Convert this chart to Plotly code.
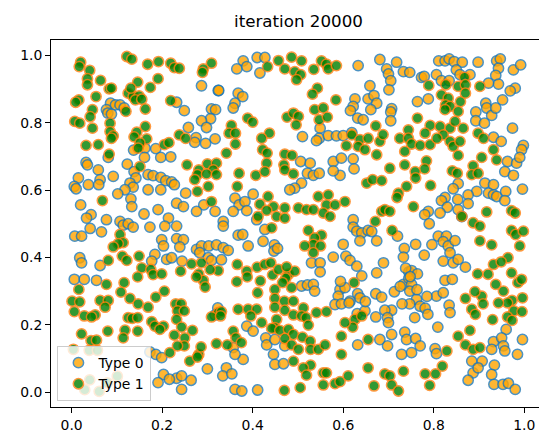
"""Schelling-style agent positions after 20000 iterations."""

import plotly.graph_objects as go

# Type 0 agents (orange fill, blue edge)
type0_x = [
    0.287, 0.324, 0.086, 0.097, 0.107, 0.116, 0.077, 0.080, 0.088, 0.232, 0.249, 0.309, 0.318, 0.307, 0.287,
    0.258, 0.298, 0.275, 0.317, 0.272, 0.296, 0.137, 0.162, 0.186, 0.081, 0.161, 0.197, 0.219, 0.032, 0.035,
    0.123, 0.059, 0.138, 0.169, 0.180, 0.197, 0.015, 0.142, 0.092, 0.208, 0.221, 0.227, 0.063, 0.006, 0.010,
    0.037, 0.060, 0.129, 0.136, 0.169, 0.197, 0.118, 0.252, 0.102, 0.131, 0.232, 0.247, 0.020, 0.292, 0.133,
    0.191, 0.276, 0.317, 0.160, 0.043, 0.033, 0.077, 0.214, 0.107,
    0.379, 0.387, 0.365, 0.410, 0.427, 0.416, 0.633, 0.681, 0.325, 0.368, 0.378, 0.361, 0.357, 0.659, 0.655,
    0.668, 0.674, 0.661, 0.626, 0.622, 0.616, 0.632, 0.644, 0.549, 0.510, 0.547, 0.541, 0.567, 0.585, 0.600,
    0.619, 0.506, 0.527, 0.521, 0.534, 0.547, 0.508, 0.493, 0.482, 0.578, 0.596, 0.622, 0.624, 0.593, 0.578,
    0.361, 0.370, 0.383, 0.401, 0.357, 0.387, 0.622, 0.335, 0.409,
    0.718, 0.696, 0.700, 0.705, 0.701, 0.733, 0.747, 0.773, 0.779, 0.806, 0.817, 0.834, 0.811, 0.825, 0.834,
    0.845, 0.863, 0.850, 0.858, 0.880, 0.898, 0.939, 0.947, 0.943, 0.937, 0.943, 0.921, 0.976, 0.992, 0.980,
    0.969, 0.788, 0.764, 0.707, 0.705, 0.705, 0.915, 0.893, 0.917, 0.928, 0.937, 0.952, 0.893, 0.912, 0.974,
    0.932, 0.949, 0.998, 0.994, 0.963, 0.983, 0.990, 0.957, 0.976, 0.854, 0.843, 0.825, 0.817,
    0.853, 0.830, 0.854, 0.814, 0.788, 0.780, 0.913, 0.932, 0.921, 0.932, 0.939, 0.895, 0.876, 0.959, 0.957,
    0.996, 0.862, 0.876,
    0.007, 0.022, 0.041, 0.066, 0.114, 0.125, 0.136, 0.173, 0.206, 0.232, 0.199, 0.203, 0.232, 0.247, 0.239,
    0.276, 0.287, 0.303, 0.320, 0.184, 0.177, 0.210, 0.221, 0.244, 0.283, 0.302, 0.309, 0.018, 0.022, 0.063,
    0.006, 0.028, 0.055, 0.323, 0.317, 0.173, 0.186, 0.199, 0.203, 0.232, 0.243, 0.191, 0.216, 0.264, 0.243,
    0.300, 0.331,
    0.335, 0.368, 0.378, 0.390, 0.448, 0.447, 0.427, 0.622, 0.630, 0.641, 0.655, 0.674, 0.637, 0.600, 0.335,
    0.346, 0.578, 0.606, 0.615, 0.630, 0.641, 0.530, 0.549, 0.549, 0.508, 0.521, 0.534, 0.537, 0.674, 0.689,
    0.593, 0.589, 0.604, 0.632, 0.637, 0.615, 0.672, 0.685, 0.387, 0.401, 0.582, 0.596, 0.613, 0.631, 0.648,
    0.672, 0.357, 0.379, 0.361, 0.429, 0.431, 0.449, 0.446, 0.449, 0.468, 0.471, 0.632, 0.681, 0.342, 0.334,
    0.354, 0.361, 0.376, 0.411, 0.423, 0.455, 0.663, 0.594, 0.649,
    0.720, 0.735, 0.733, 0.760, 0.779, 0.810, 0.828, 0.821, 0.832, 0.847, 0.836, 0.821, 0.843, 0.854, 0.870,
    0.713, 0.733, 0.745, 0.751, 0.764, 0.745, 0.751, 0.747, 0.825, 0.841, 0.806, 0.821, 0.834, 0.836, 0.762,
    0.770, 0.781, 0.747, 0.730, 0.707, 0.692, 0.698, 0.700, 0.758, 0.787, 0.809, 0.960, 0.698, 0.707, 0.736,
    0.740, 0.760, 0.770, 0.729, 0.751, 0.932, 0.928, 0.950, 0.954, 0.957, 0.985, 0.996, 0.803, 0.806, 0.884,
    0.907, 0.887, 0.934, 0.928, 0.876, 0.933, 0.953, 0.965, 0.980, 0.898, 0.796, 0.738, 0.748, 0.726, 0.763,
    0.785, 0.790,
]
type0_y = [
    0.910, 0.896, 0.858, 0.853, 0.853, 0.844, 0.839, 0.829, 0.826, 0.861, 0.836, 0.841, 0.839, 0.812, 0.806,
    0.786, 0.786, 0.756, 0.752, 0.742, 0.739, 0.719, 0.725, 0.723, 0.697, 0.697, 0.697, 0.699, 0.682, 0.675,
    0.677, 0.660, 0.655, 0.646, 0.643, 0.638, 0.636, 0.636, 0.641, 0.628, 0.624, 0.616, 0.631, 0.611, 0.604,
    0.616, 0.616, 0.621, 0.609, 0.601, 0.601, 0.601, 0.591, 0.589, 0.574, 0.561, 0.551, 0.556, 0.556, 0.551,
    0.542, 0.537, 0.537, 0.529, 0.527, 0.517, 0.512, 0.517, 0.507,
    0.984, 0.967, 0.960, 0.994, 0.994, 0.948, 0.970, 0.988, 0.896, 0.888, 0.878, 0.858, 0.844, 0.910, 0.871,
    0.881, 0.858, 0.839, 0.871, 0.849, 0.836, 0.814, 0.809, 0.784, 0.759, 0.754, 0.747, 0.762, 0.761, 0.762,
    0.771, 0.685, 0.680, 0.650, 0.644, 0.650, 0.621, 0.606, 0.601, 0.685, 0.695, 0.693, 0.663, 0.644, 0.657,
    0.576, 0.556, 0.566, 0.588, 0.537, 0.539, 0.512, 0.507, 0.512,
    0.980, 0.960, 0.945, 0.925, 0.898, 0.952, 0.950, 0.935, 0.938, 0.943, 0.925, 0.925, 0.984, 0.984, 0.990,
    0.982, 0.980, 0.957, 0.943, 0.943, 0.980, 0.984, 0.990, 0.962, 0.941, 0.915, 0.918, 0.957, 0.972, 0.903,
    0.895, 0.871, 0.863, 0.842, 0.832, 0.806, 0.858, 0.832, 0.844, 0.822, 0.844, 0.868, 0.806, 0.799, 0.784,
    0.757, 0.745, 0.733, 0.720, 0.685, 0.680, 0.697, 0.655, 0.644, 0.619, 0.604, 0.578, 0.569,
    0.572, 0.549, 0.542, 0.532, 0.537, 0.527, 0.621, 0.616, 0.591, 0.586, 0.581, 0.596, 0.586, 0.596, 0.569,
    0.603, 0.521, 0.560,
    0.463, 0.463, 0.486, 0.476, 0.496, 0.500, 0.490, 0.490, 0.493, 0.493, 0.453, 0.434, 0.456, 0.453, 0.431,
    0.424, 0.434, 0.434, 0.437, 0.409, 0.389, 0.394, 0.399, 0.389, 0.414, 0.399, 0.391, 0.399, 0.384, 0.376,
    0.335, 0.335, 0.332, 0.250, 0.229, 0.119, 0.112, 0.102, 0.052, 0.041, 0.048, 0.028, 0.038, 0.035, 0.008,
    0.069, 0.393,
    0.493, 0.466, 0.468, 0.434, 0.437, 0.419, 0.483, 0.490, 0.478, 0.473, 0.480, 0.449, 0.449, 0.439, 0.429,
    0.421, 0.401, 0.404, 0.391, 0.374, 0.345, 0.384, 0.384, 0.357, 0.315, 0.318, 0.320, 0.300, 0.354, 0.384,
    0.305, 0.285, 0.310, 0.292, 0.280, 0.270, 0.292, 0.282, 0.196, 0.181, 0.260, 0.262, 0.265, 0.233, 0.241,
    0.223, 0.132, 0.097, 0.112, 0.161, 0.140, 0.156, 0.112, 0.082, 0.084, 0.137, 0.140, 0.156, 0.072, 0.048,
    0.054, 0.008, 0.003, 0.006, 0.448, 0.427, 0.477, 0.329, 0.269,
    0.463, 0.427, 0.401, 0.439, 0.407, 0.463, 0.463, 0.447, 0.434, 0.450, 0.414, 0.389, 0.384, 0.394, 0.371,
    0.298, 0.320, 0.357, 0.361, 0.351, 0.338, 0.320, 0.300, 0.332, 0.335, 0.285, 0.295, 0.258, 0.236, 0.275,
    0.255, 0.249, 0.262, 0.262, 0.243, 0.243, 0.221, 0.206, 0.221, 0.231, 0.193, 0.186, 0.137, 0.171, 0.178,
    0.156, 0.159, 0.137, 0.112, 0.117, 0.150, 0.127, 0.161, 0.137, 0.122, 0.112, 0.156, 0.129, 0.114, 0.092,
    0.092, 0.057, 0.080, 0.052, 0.035, 0.023, 0.023, 0.026, 0.008, 0.072, 0.438, 0.368, 0.343, 0.314, 0.304,
    0.284, 0.500,
]

# Type 1 agents (green fill, orange edge)
type1_x = [
    0.122, 0.133, 0.020, 0.017, 0.168, 0.192, 0.219, 0.227, 0.238, 0.309, 0.291, 0.289, 0.040, 0.035, 0.035,
    0.064, 0.191, 0.146, 0.174, 0.083, 0.088, 0.054, 0.125, 0.136, 0.149, 0.141, 0.155, 0.131, 0.016, 0.009,
    0.219, 0.120, 0.046, 0.163, 0.041, 0.007, 0.018, 0.085, 0.163, 0.046, 0.085, 0.092, 0.088, 0.144, 0.138,
    0.166, 0.238, 0.252, 0.151, 0.147, 0.032, 0.059, 0.205, 0.215, 0.083, 0.151, 0.255, 0.300, 0.320, 0.281,
    0.313, 0.278, 0.298, 0.320, 0.272, 0.302, 0.278, 0.068, 0.309,
    0.433, 0.457, 0.486, 0.508, 0.471, 0.493, 0.506, 0.497, 0.535, 0.552, 0.563, 0.567, 0.585, 0.543, 0.532,
    0.584, 0.389, 0.400, 0.353, 0.348, 0.362, 0.362, 0.476, 0.490, 0.501, 0.496, 0.537, 0.556, 0.547, 0.565,
    0.672, 0.437, 0.420, 0.342, 0.619, 0.637, 0.633, 0.655, 0.681, 0.607, 0.674, 0.422, 0.432, 0.431, 0.407,
    0.427, 0.471, 0.487, 0.469, 0.471, 0.490, 0.370, 0.366, 0.652, 0.665, 0.685, 0.416, 0.434, 0.446, 0.471,
    0.453, 0.471, 0.501, 0.519, 0.534, 0.545, 0.567, 0.563, 0.582, 0.604, 0.556, 0.571, 0.685, 0.431, 0.412,
    0.671, 0.688, 0.648,
    0.789, 0.868, 0.854, 0.870, 0.827, 0.902, 0.817, 0.832, 0.826, 0.836, 0.825, 0.859, 0.870, 0.854, 0.764,
    0.744, 0.725, 0.744, 0.751, 0.770, 0.792, 0.792, 0.814, 0.836, 0.847, 0.865, 0.821, 0.836, 0.843, 0.858,
    0.898, 0.910, 0.736, 0.854, 0.906, 0.932, 0.939, 0.784, 0.780, 0.736, 0.759, 0.760, 0.703, 0.841, 0.852,
    0.887, 0.884, 0.898, 0.740, 0.793, 0.722, 0.719, 0.692, 0.703, 0.755, 0.917, 0.972, 0.980, 0.862,
    0.781, 0.807,
    0.107, 0.114, 0.103, 0.092, 0.112, 0.122, 0.081, 0.265, 0.287, 0.281, 0.291, 0.295, 0.276, 0.324, 0.306,
    0.149, 0.155, 0.175, 0.180, 0.199, 0.146, 0.241, 0.077, 0.016, 0.116, 0.109, 0.129, 0.205, 0.186, 0.147,
    0.169, 0.001, 0.018, 0.063, 0.081, 0.074, 0.006, 0.028, 0.052, 0.044, 0.230, 0.242, 0.234, 0.249, 0.232,
    0.243, 0.125, 0.134, 0.146, 0.177, 0.184, 0.203, 0.195, 0.324, 0.309, 0.022, 0.080, 0.118, 0.146, 0.114,
    0.043, 0.055, 0.039, 0.057, 0.004, 0.227, 0.250, 0.267, 0.249, 0.234, 0.217, 0.261, 0.281, 0.286, 0.278,
    0.320, 0.101, 0.079, 0.061, 0.040, 0.029,
    0.442, 0.523, 0.552, 0.537, 0.534, 0.515, 0.550, 0.534, 0.366, 0.365, 0.387, 0.388, 0.410, 0.427, 0.440,
    0.444, 0.417, 0.457, 0.479, 0.473, 0.493, 0.466, 0.486, 0.624, 0.411, 0.449, 0.449, 0.449, 0.470, 0.490,
    0.512, 0.471, 0.331, 0.329, 0.368, 0.390, 0.409, 0.396, 0.420, 0.453, 0.449, 0.442, 0.460, 0.490, 0.508,
    0.518, 0.523, 0.541, 0.563, 0.626, 0.641, 0.621, 0.596, 0.604, 0.357, 0.363, 0.344, 0.375, 0.479, 0.490,
    0.471, 0.486, 0.510, 0.527, 0.501, 0.528, 0.545, 0.560, 0.490, 0.528, 0.512, 0.596, 0.655, 0.519, 0.556,
    0.563, 0.556, 0.582, 0.593, 0.611, 0.655, 0.668, 0.470, 0.505, 0.475,
    0.708, 0.887, 0.902, 0.972, 0.981, 0.998, 0.902, 0.928, 0.990, 0.964, 0.932, 0.949, 0.897, 0.920, 0.972,
    0.937, 0.954, 0.986, 0.994, 0.996, 0.973, 0.963, 0.906, 0.870, 0.891, 0.884, 0.892, 0.909, 0.943, 0.977,
    0.995, 0.963, 0.973, 0.930, 0.880, 0.854, 0.870, 0.887, 0.902, 0.829, 0.819, 0.804, 0.781, 0.692, 0.703,
    0.707, 0.722, 0.733, 0.791,
]
type1_y = [
    0.997, 0.989, 0.980, 0.967, 0.974, 0.982, 0.977, 0.964, 0.962, 0.977, 0.960, 0.950, 0.956, 0.931, 0.913,
    0.926, 0.931, 0.921, 0.905, 0.901, 0.903, 0.878, 0.888, 0.878, 0.880, 0.868, 0.870, 0.903, 0.868, 0.861,
    0.866, 0.834, 0.839, 0.841, 0.818, 0.804, 0.799, 0.799, 0.789, 0.784, 0.774, 0.761, 0.754, 0.772, 0.758,
    0.752, 0.764, 0.754, 0.740, 0.725, 0.733, 0.735, 0.735, 0.741, 0.707, 0.670, 0.675, 0.678, 0.680, 0.660,
    0.660, 0.646, 0.648, 0.646, 0.631, 0.611, 0.596, 0.569, 0.566,
    0.967, 0.985, 0.995, 0.984, 0.960, 0.952, 0.943, 0.928, 0.959, 0.984, 0.974, 0.960, 0.970, 0.903, 0.885,
    0.868, 0.814, 0.802, 0.792, 0.769, 0.769, 0.737, 0.817, 0.829, 0.819, 0.794, 0.839, 0.844, 0.809, 0.817,
    0.791, 0.769, 0.754, 0.710, 0.764, 0.750, 0.730, 0.754, 0.745, 0.732, 0.705, 0.720, 0.710, 0.680, 0.644,
    0.655, 0.707, 0.703, 0.675, 0.660, 0.648, 0.650, 0.611, 0.621, 0.631, 0.628, 0.558, 0.581, 0.551, 0.547,
    0.522, 0.517, 0.547, 0.542, 0.542, 0.581, 0.586, 0.556, 0.556, 0.566, 0.532, 0.522, 0.537, 0.540, 0.522,
    0.507, 0.765, 0.720,
    0.911, 0.935, 0.908, 0.913, 0.913, 0.908, 0.883, 0.873, 0.853, 0.849, 0.839, 0.863, 0.888, 0.834, 0.814,
    0.779, 0.754, 0.754, 0.737, 0.733, 0.735, 0.792, 0.789, 0.784, 0.804, 0.784, 0.764, 0.745, 0.730, 0.745,
    0.769, 0.754, 0.715, 0.703, 0.697, 0.720, 0.690, 0.687, 0.663, 0.675, 0.655, 0.636, 0.665, 0.657, 0.650,
    0.672, 0.646, 0.650, 0.611, 0.614, 0.591, 0.578, 0.542, 0.537, 0.551, 0.535, 0.539, 0.532, 0.522,
    0.769, 0.754,
    0.468, 0.444, 0.441, 0.431, 0.404, 0.391, 0.391, 0.381, 0.384, 0.351, 0.332, 0.312, 0.342, 0.361, 0.364,
    0.404, 0.369, 0.364, 0.349, 0.351, 0.342, 0.359, 0.320, 0.305, 0.325, 0.297, 0.278, 0.300, 0.282, 0.262,
    0.252, 0.270, 0.268, 0.272, 0.272, 0.252, 0.239, 0.226, 0.229, 0.223, 0.262, 0.262, 0.241, 0.241, 0.216,
    0.193, 0.221, 0.219, 0.221, 0.209, 0.196, 0.196, 0.186, 0.236, 0.223, 0.173, 0.181, 0.184, 0.181, 0.161,
    0.153, 0.154, 0.124, 0.124, 0.127, 0.169, 0.161, 0.183, 0.137, 0.137, 0.117, 0.092, 0.112, 0.134, 0.104,
    0.144, 0.047, 0.027, 0.002, 0.036, 0.007,
    0.488, 0.480, 0.466, 0.458, 0.439, 0.434, 0.434, 0.414, 0.379, 0.328, 0.359, 0.342, 0.371, 0.379, 0.384,
    0.348, 0.330, 0.364, 0.350, 0.338, 0.359, 0.325, 0.310, 0.325, 0.295, 0.305, 0.278, 0.252, 0.270, 0.270,
    0.250, 0.243, 0.239, 0.226, 0.246, 0.246, 0.246, 0.226, 0.206, 0.216, 0.191, 0.189, 0.183, 0.229, 0.226,
    0.221, 0.199, 0.236, 0.239, 0.216, 0.226, 0.193, 0.166, 0.206, 0.181, 0.161, 0.140, 0.147, 0.186, 0.171,
    0.159, 0.140, 0.163, 0.151, 0.127, 0.127, 0.127, 0.140, 0.092, 0.080, 0.072, 0.112, 0.156, 0.050, 0.057,
    0.057, 0.021, 0.025, 0.031, 0.048, 0.072, 0.018, 0.005, 0.013, 0.372,
    0.480, 0.503, 0.493, 0.480, 0.468, 0.478, 0.449, 0.437, 0.434, 0.399, 0.379, 0.387, 0.351, 0.350, 0.354,
    0.320, 0.300, 0.325, 0.335, 0.280, 0.272, 0.265, 0.285, 0.278, 0.298, 0.246, 0.231, 0.262, 0.265, 0.241,
    0.239, 0.223, 0.213, 0.215, 0.183, 0.166, 0.140, 0.127, 0.132, 0.122, 0.077, 0.054, 0.054, 0.054, 0.048,
    0.021, 0.003, 0.062, 0.020,
]

tick_vals = [0.0, 0.2, 0.4, 0.6, 0.8, 1.0]
tick_text = ["0.0", "0.2", "0.4", "0.6", "0.8", "1.0"]

FONT = "DejaVu Sans"

fig = go.Figure()
fig.add_trace(go.Scatter(
    x=type0_x, y=type0_y, mode="markers", name="Type 0",
    marker=dict(size=10.3, color="orange", opacity=0.8,
                line=dict(color="#1f77b4", width=1.5)),
))
fig.add_trace(go.Scatter(
    x=type1_x, y=type1_y, mode="markers", name="Type 1",
    marker=dict(size=10.3, color="green", opacity=0.8,
                line=dict(color="#ff7f0e", width=1.5)),
))

axis_style = dict(
    showline=True, mirror=True, linecolor="black", linewidth=1,
    ticks="outside", ticklen=5, tickwidth=1, tickcolor="black",
    showgrid=False, zeroline=False,
    tickvals=tick_vals, ticktext=tick_text,
    tickfont=dict(family=FONT, size=13.9, color="black"),
)
fig.update_xaxes(range=[-0.0455, 1.048], **axis_style)
fig.update_yaxes(range=[-0.0445, 1.046], **axis_style)

fig.update_layout(
    width=547, height=434,
    margin=dict(l=43, r=9, t=32, b=35),
    paper_bgcolor="white", plot_bgcolor="white",
    title=dict(text="iteration 20000", x=0.5, xref="paper",
               y=0.97, yref="container", yanchor="middle",
               font=dict(family=FONT, size=16.7, color="black")),
    font=dict(family=FONT, size=13.9, color="black"),
    legend=dict(x=0.013, y=0.016, xanchor="left", yanchor="bottom",
                bgcolor="rgba(255,255,255,0.8)", bordercolor="#cccccc",
                borderwidth=1, font=dict(family=FONT, size=13.9)),
)

fig.write_html("out.html")
